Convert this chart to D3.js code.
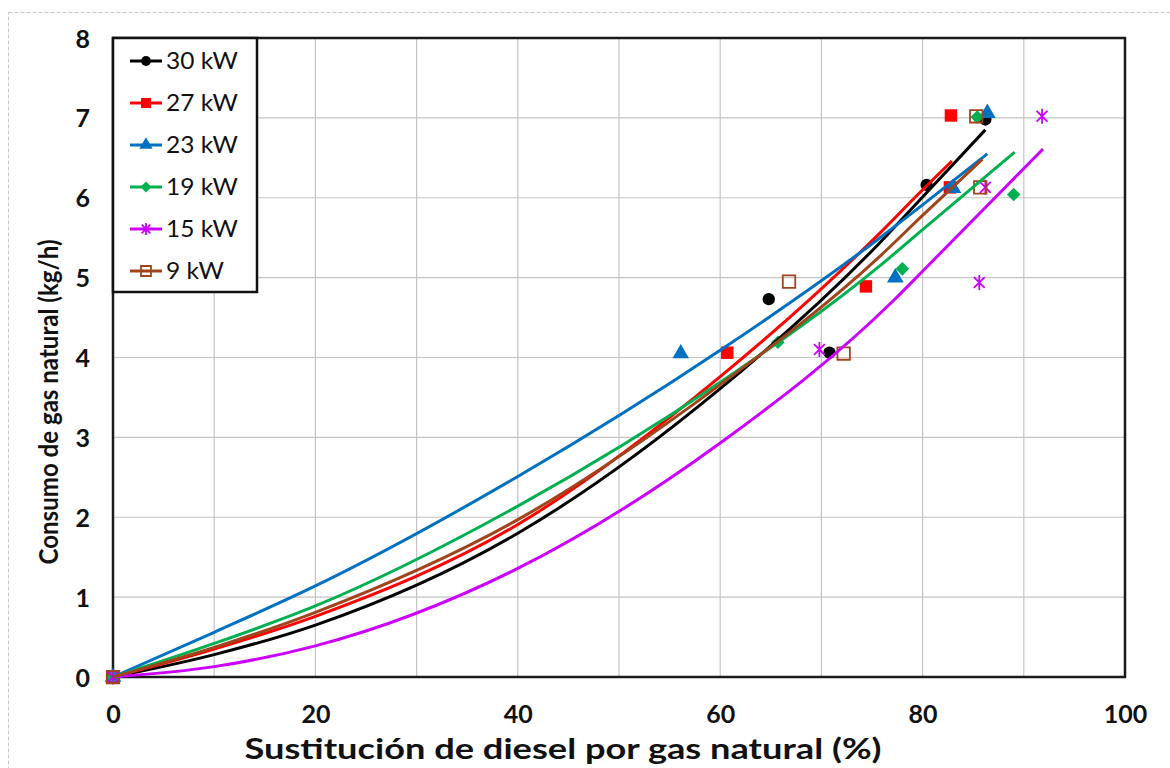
<!DOCTYPE html>
<html>
<head>
<meta charset="utf-8">
<script src="https://cdn.jsdelivr.net/npm/d3@7"></script>
<style>
  html, body { margin: 0; padding: 0; background: #fff; }
  svg { display: block; font-family: Lato, "Open Sans", sans-serif; }
</style>
</head>
<body>
<div id="chart"></div>
<script>
// ── Data ──
const seriesNames = ['30 kW', '27 kW', '23 kW', '19 kW', '15 kW', '9 kW'];
const colors = ['#000000', '#ff0000', '#0070c0', '#00b050', '#cc00ff', '#a0441c'];

// measured points: substitution (%) / consumption (kg/h)
const sust30 = [0, 64.8, 70.8, 80.4, 86.2];
const cons30 = [0, 4.73, 4.06, 6.16, 6.98];
const sust27 = [0, 60.7, 74.4, 82.7, 82.8];
const cons27 = [0, 4.06, 4.89, 6.13, 7.03];
const sust23 = [0, 56.1, 77.3, 83.0, 86.4];
const cons23 = [0, 4.05, 5.0, 6.12, 7.06];
const sust19 = [0, 65.7, 78.0, 89.0, 85.4];
const cons19 = [0, 4.19, 5.11, 6.04, 7.01];
const sust15 = [0, 69.8, 85.6, 86.2, 91.8];
const cons15 = [0, 4.10, 4.94, 6.13, 7.02];
const sust9  = [0, 66.8, 72.2, 85.7, 85.3];
const cons9  = [0, 4.95, 4.05, 6.13, 7.02];

// trend curves
const trend30X = [0, 10, 20, 40, 60, 75.8, 80, 86.2];
const trend30Y = [0, 0.28, 0.65, 1.80, 3.61, 5.44, 6.01, 6.85];
const trend27X = [0, 10, 20, 40, 60, 75.8, 80, 82.9];
const trend27Y = [0, 0.35, 0.76, 1.91, 3.76, 5.56, 6.10, 6.46];
const trend23X = [0, 10, 20, 40, 60, 75.8, 80, 86.4];
const trend23Y = [0, 0.56, 1.14, 2.51, 4.09, 5.50, 5.91, 6.55];
const trend19X = [0, 10, 20, 40, 60, 75.8, 80, 89.1];
const trend19Y = [0, 0.42, 0.89, 2.14, 3.69, 5.15, 5.60, 6.57];
const trend15X = [0, 10, 20, 40, 60, 77.1, 80, 91.9];
const trend15Y = [0, 0.13, 0.39, 1.36, 2.93, 4.71, 5.08, 6.61];
const trend9X  = [0, 10, 20, 40, 60, 75.8, 80, 85.9];
const trend9Y  = [0, 0.37, 0.81, 1.97, 3.66, 5.27, 5.78, 6.48];

const xTicks = [0, 20, 40, 60, 80, 100];
const yTicks = [0, 1, 2, 3, 4, 5, 6, 7, 8];

const xTitle = 'Sustitución de diesel por gas natural (%)';
const yTitle = 'Consumo de gas natural (kg/h)';

const W = 1170, H = 768;
const plot = { left: 113, right: 1125, top: 38, bottom: 677 };

const svg = d3.select('#chart').append('svg')
  .attr('width', W).attr('height', H);

svg.append('rect').attr('width', W).attr('height', H).attr('fill', '#fff');

// outer (dashed) chart frame
svg.append('rect')
  .attr('x', 8.5).attr('y', 12.5).attr('width', 1300).attr('height', 900)
  .attr('fill', 'none').attr('stroke', '#c8c8c8').attr('stroke-dasharray', '4,2');

const x = d3.scaleLinear().domain([0, 100]).range([plot.left, plot.right]);
const y = d3.scaleLinear().domain([0, 8]).range([plot.bottom, plot.top]);

// Grid
svg.append('g')
  .selectAll('line').data(d3.range(10, 100, 10)).enter().append('line')
  .attr('x1', d => x(d)).attr('x2', d => x(d))
  .attr('y1', plot.top).attr('y2', plot.bottom)
  .attr('stroke', '#c4c4c4').attr('stroke-width', 1.2);
svg.append('g')
  .selectAll('line').data(yTicks.slice(1, -1)).enter().append('line')
  .attr('x1', plot.left).attr('x2', plot.right)
  .attr('y1', d => y(d)).attr('y2', d => y(d))
  .attr('stroke', '#c4c4c4').attr('stroke-width', 1.2);

// Plot frame
svg.append('rect')
  .attr('x', plot.left).attr('y', plot.top)
  .attr('width', plot.right - plot.left).attr('height', plot.bottom - plot.top)
  .attr('fill', 'none').attr('stroke', '#1a1a1a').attr('stroke-width', 2.5);

// Axes (labels only, frame drawn above)
const xAxis = svg.append('g').attr('transform', `translate(0,${plot.bottom})`)
  .call(d3.axisBottom(x).tickValues(xTicks).tickSize(0).tickPadding(46));
const yAxis = svg.append('g').attr('transform', `translate(${plot.left},0)`)
  .call(d3.axisLeft(y).tickValues(yTicks).tickSize(0).tickPadding(23));
[xAxis, yAxis].forEach(g => {
  g.select('.domain').remove();
  g.selectAll('text')
    .attr('font-family', 'Lato, sans-serif')
    .attr('font-size', 25).attr('font-weight', 'bold').attr('fill', '#111');
});
xAxis.selectAll('text').attr('dy', 0);
yAxis.selectAll('text').attr('dy', '0.36em');

// Axis titles (Calibri-like width: squeeze to the measured length)
svg.append('text')
  .attr('x', 563).attr('y', 759).attr('text-anchor', 'middle')
  .attr('font-size', 28).attr('font-weight', 'bold').attr('fill', '#111')
  .attr('textLength', 637).attr('lengthAdjust', 'spacingAndGlyphs')
  .text(xTitle);
svg.append('text')
  .attr('transform', 'translate(58,402) rotate(-90)').attr('text-anchor', 'middle')
  .attr('font-size', 27).attr('font-weight', 'bold').attr('fill', '#111')
  .attr('textLength', 325).attr('lengthAdjust', 'spacingAndGlyphs')
  .text(yTitle);

// Marker shapes
function markerPath(i, s) {
  if (i === 0) return d3.symbol(d3.symbolCircle, 120 * s * s)();
  if (i === 1 || i === 5) return d3.symbol(d3.symbolSquare, 155 * s * s)();
  if (i === 2) return d3.symbol(d3.symbolTriangle, 120 * s * s)();
  if (i === 3) { const r = 6.8 * s; return `M0,${-r}L${r},0L0,${r}L${-r},0Z`; }
  const r = 7.5 * s, a = r * 0.72;
  return `M${-a},${-a}L${a},${a}M${-a},${a}L${a},${-a}M0,${-r}L0,${r}`;
}
function styleMarker(sel, i) {
  if (i === 4) sel.attr('fill', 'none').attr('stroke', colors[i]).attr('stroke-width', 1.8);
  else if (i === 5) sel.attr('fill', 'none').attr('stroke', colors[i]).attr('stroke-width', 1.8);
  else sel.attr('fill', colors[i]).attr('stroke', 'none');
}

const pointsX = [sust30, sust27, sust23, sust19, sust15, sust9];
const pointsY = [cons30, cons27, cons23, cons19, cons15, cons9];
const trendX = [trend30X, trend27X, trend23X, trend19X, trend15X, trend9X];
const trendY = [trend30Y, trend27Y, trend23Y, trend19Y, trend15Y, trend9Y];

// Markers
seriesNames.forEach((name, i) => {
  const pts = pointsX[i].map((v, j) => ({ x: v, y: pointsY[i][j] }));
  svg.append('g').selectAll('path').data(pts).enter().append('path')
    .attr('transform', d => `translate(${x(d.x)},${y(d.y)})`)
    .attr('d', markerPath(i, 1))
    .call(styleMarker, i);
});

// Trend lines
const line = d3.line().x(d => x(d.x)).y(d => y(d.y)).curve(d3.curveMonotoneX);
seriesNames.forEach((name, i) => {
  const pts = trendX[i].map((v, j) => ({ x: v, y: trendY[i][j] }));
  svg.append('path').datum(pts)
    .attr('fill', 'none').attr('stroke', colors[i]).attr('stroke-width', 3)
    .attr('d', line);
});

// Legend
const lg = svg.append('g');
lg.append('rect')
  .attr('x', 113).attr('y', 38).attr('width', 144).attr('height', 254)
  .attr('fill', '#fff').attr('stroke', '#111').attr('stroke-width', 2.5);
seriesNames.forEach((name, i) => {
  const cy = 61 + i * 42;
  lg.append('line').attr('x1', 130).attr('x2', 162).attr('y1', cy).attr('y2', cy)
    .attr('stroke', colors[i]).attr('stroke-width', 3);
  lg.append('path').attr('transform', `translate(146,${cy})`)
    .attr('d', markerPath(i, 0.8)).call(styleMarker, i);
  lg.append('text').attr('x', 166).attr('y', cy).attr('dy', '0.36em')
    .attr('font-size', 23).attr('fill', '#111')
    .attr('textLength', name.length === 5 ? 72 : 58).attr('lengthAdjust', 'spacingAndGlyphs')
    .text(name);
});
</script>
</body>
</html>
